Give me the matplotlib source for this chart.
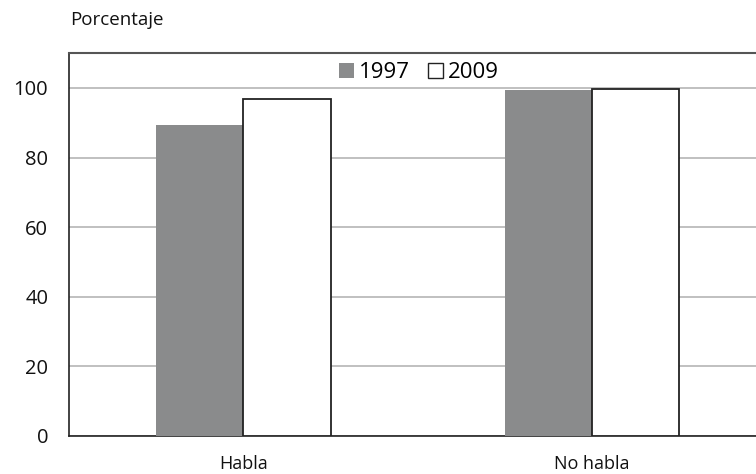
import numpy as np
import matplotlib.pyplot as plt
from matplotlib.patches import Patch

plt.rcParams['font.family'] = ['Open Sans', 'DejaVu Sans']

categorias = ['Habla', 'No habla']
anios = ['1997', '2009']
v1997 = [89.4, 99.4]
v2009 = [96.8, 99.8]
yticks = [0, 20, 40, 60, 80, 100]

fig = plt.figure(figsize=(7.56, 4.74), dpi=100)
ax = fig.add_axes([0.0913, 0.0808, 0.9227, 0.807])

x = np.arange(len(categorias))
w = 0.25
ax.bar(x - w/2, v1997, w, color='#8a8b8c', edgecolor='none', zorder=3)
ax.bar(x + w/2, v2009, w, color='white', edgecolor='#222222', linewidth=1.3, zorder=3)

ax.set_xlim(-0.5, 1.5)
ax.set_ylim(0, 110)
ax.set_yticks(yticks)
ax.set_xticks(x)
ax.tick_params(axis='both', length=0, colors='#111111')
ax.tick_params(axis='y', pad=15, labelsize=14.5)
ax.tick_params(axis='x', pad=14, labelsize=13)
ax.set_xticklabels(categorias)
ax.yaxis.grid(True, color='#b5b5b5', linewidth=1.2, zorder=0)

ax.spines['left'].set_color('#222222')
ax.spines['left'].set_linewidth(1.2)
ax.spines['bottom'].set_color('#222222')
ax.spines['bottom'].set_linewidth(1.2)
ax.spines['top'].set_color('#555555')
ax.spines['top'].set_linewidth(1.5)
ax.spines['right'].set_visible(False)

handles = [Patch(facecolor='#8a8b8c', edgecolor='none'),
           Patch(facecolor='white', edgecolor='#222222', linewidth=1.0)]
ax.legend(handles, anios, loc='upper center', bbox_to_anchor=(0.502, 1.0), ncol=2, frameon=False,
          fontsize=16, handlelength=0.65, handleheight=0.65, handletextpad=0.25,
          columnspacing=0.8, borderaxespad=0.0)

fig.text(70/756, 1 - 20/474, 'Porcentaje', fontsize=13.5, va='center', ha='left', color='#111111')

fig.savefig('out.png', dpi=100)
